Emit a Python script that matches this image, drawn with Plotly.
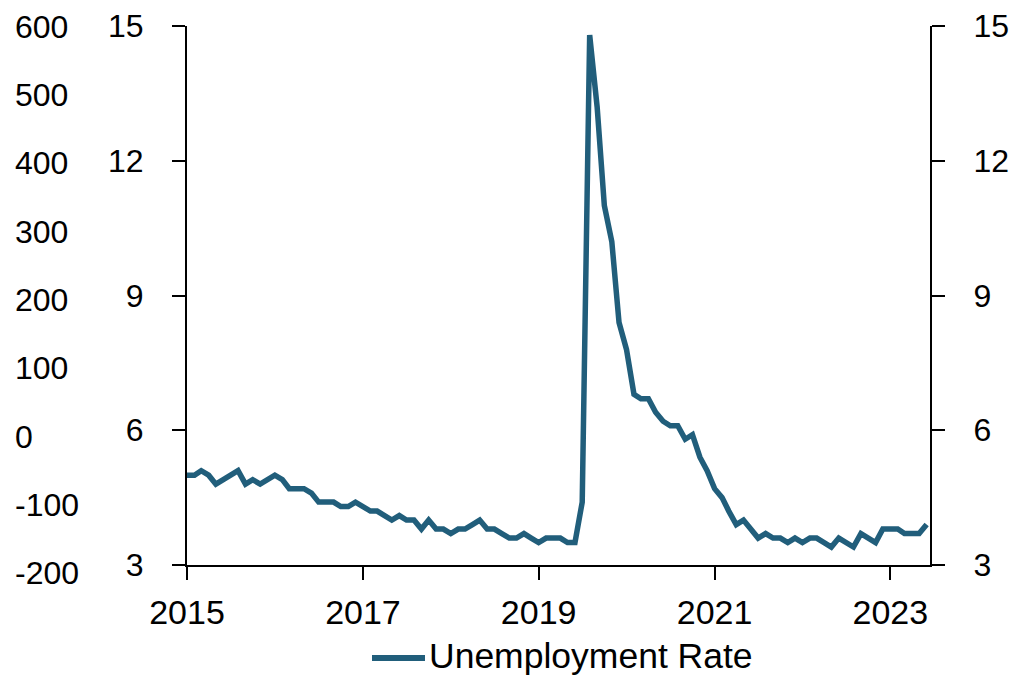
import pandas as pd
import plotly.graph_objects as go

# Unemployment rate (%), monthly from Jan 2015
unemployment_rate = [
    5.0, 5.0, 5.1, 5.0,
    4.8, 4.9, 5.0, 5.1, 4.8, 4.9, 4.8, 4.9, 5.0, 4.9, 4.7, 4.7,
    4.7, 4.6, 4.4, 4.4, 4.4, 4.3, 4.3, 4.4, 4.3, 4.2, 4.2, 4.1,
    4.0, 4.1, 4.0, 4.0, 3.8, 4.0, 3.8, 3.8, 3.7, 3.8, 3.8, 3.9,
    4.0, 3.8, 3.8, 3.7, 3.6, 3.6, 3.7, 3.6, 3.5, 3.6, 3.6, 3.6,
    3.5, 3.5, 4.4, 14.8, 13.2, 11.0, 10.2, 8.4, 7.8, 6.8, 6.7, 6.7,
    6.4, 6.2, 6.1, 6.1, 5.8, 5.9, 5.4, 5.1, 4.7, 4.5, 4.2, 3.9,
    4.0, 3.8, 3.6, 3.7, 3.6, 3.6, 3.5, 3.6, 3.5, 3.6, 3.6, 3.5,
    3.4, 3.6, 3.5, 3.4, 3.7, 3.6, 3.5, 3.8, 3.8, 3.8, 3.7, 3.7,
    3.7, 3.9,
]
dates = pd.date_range("2015-01-01", periods=len(unemployment_rate), freq="MS")

x_tick_vals = ["2015-01-01", "2017-01-01", "2019-01-01", "2021-01-01", "2023-01-01"]
x_tick_text = ["2015", "2017", "2019", "2021", "2023"]
rate_ticks = [3, 6, 9, 12, 15]
left_outer_ticks = [-200, -100, 0, 100, 200, 300, 400, 500, 600]
left_outer_text = ["-200", "-100", "0", "100", "200", "300", "400", "500", "600"]
series_name = "Unemployment Rate"

LINE_COLOR = "#215E7B"
FONT = "Liberation Sans, Arial, sans-serif"
W, H = 1019, 681

def px_x(p):
    return p / W

def px_y(p):
    return (H - p) / H

fig = go.Figure()
fig.add_trace(go.Scatter(
    x=dates, y=unemployment_rate, mode="lines", name=series_name,
    line=dict(color=LINE_COLOR, width=5.5), showlegend=False,
    xaxis="x", yaxis="y",
))
fig.add_trace(go.Scatter(
    x=[dates[0]], y=[None], mode="lines", showlegend=False, hoverinfo="skip",
    xaxis="x", yaxis="y2",
))
fig.add_trace(go.Scatter(
    x=[dates[0]], y=[None], mode="lines", showlegend=False, hoverinfo="skip",
    xaxis="x", yaxis="y3",
))

axis_font = dict(family=FONT, size=32, color="black")

fig.update_layout(
    width=W, height=H,
    margin=dict(l=0, r=0, t=0, b=0, autoexpand=False),
    paper_bgcolor="white",
    plot_bgcolor="rgba(0,0,0,0)",
    showlegend=False,
    xaxis=dict(
        domain=[px_x(187), px_x(930)],
        type="date",
        range=["2015-01-01", "2023-06-15"],
        tickvals=x_tick_vals, ticktext=x_tick_text,
        ticks="outside", ticklen=13, tickwidth=2, tickcolor="black",
        showline=True, linecolor="black", linewidth=2,
        showgrid=False, zeroline=False,
        tickfont=dict(family=FONT, size=34, color="black"),
        ticklabelstandoff=3,
        anchor="y", automargin=False,
    ),
    yaxis=dict(
        domain=[px_y(565), px_y(26)],
        range=[3, 15],
        tickvals=rate_ticks,
        ticks="outside", ticklen=13, tickwidth=2, tickcolor="black",
        showline=True, linecolor="black", linewidth=2,
        showgrid=False, zeroline=False,
        tickfont=axis_font,
        ticklabelstandoff=22,
        anchor="x", automargin=False,
    ),
    yaxis2=dict(
        overlaying="y", side="right", anchor="x",
        range=[3, 15],
        tickvals=rate_ticks,
        ticks="outside", ticklen=13, tickwidth=2, tickcolor="black",
        showline=True, linecolor="black", linewidth=2,
        showgrid=False, zeroline=False,
        tickfont=axis_font,
        ticklabelstandoff=22, automargin=False,
    ),
    yaxis3=dict(
        domain=[px_y(573), px_y(26.5)],
        range=[-200, 600],
        tickvals=left_outer_ticks, ticktext=left_outer_text,
        side="right", anchor="free", position=0.0,
        ticks="", showline=False, showgrid=False, zeroline=False,
        tickfont=axis_font,
        ticklabelstandoff=14, automargin=False,
    ),
)

fig.add_shape(
    type="line", xref="paper", yref="paper",
    x0=px_x(372), x1=px_x(425), y0=px_y(658), y1=px_y(658),
    line=dict(color=LINE_COLOR, width=6),
)
fig.add_annotation(
    x=px_x(427), y=px_y(656), xref="paper", yref="paper",
    text=series_name, showarrow=False, xanchor="left", yanchor="middle",
    font=dict(family=FONT, size=35.5, color="black"),
)

fig.write_html("out.html")
